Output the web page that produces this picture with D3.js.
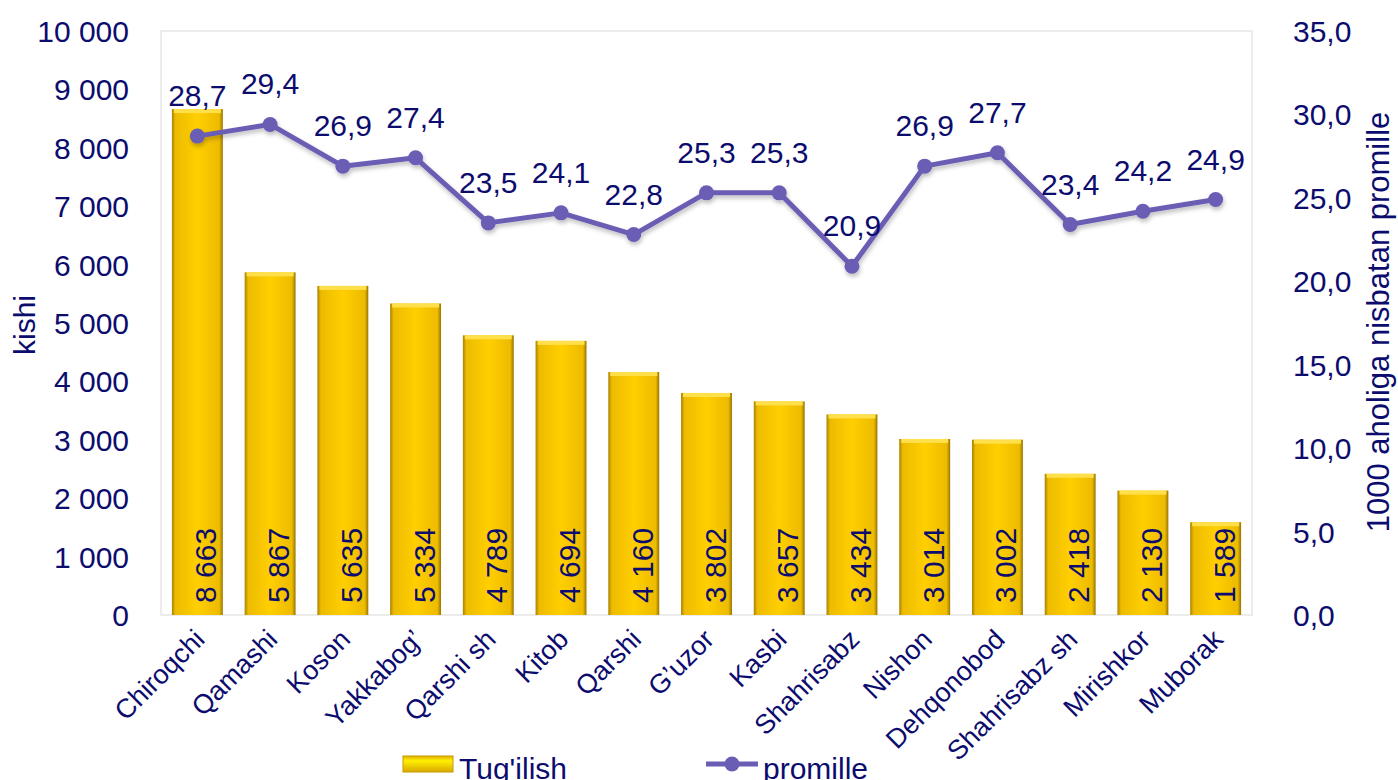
<!DOCTYPE html>
<html>
<head>
<meta charset="utf-8">
<script src="https://cdn.jsdelivr.net/npm/d3@7"></script>
<style>
  body { margin: 0; background: #fff; }
  svg text { font-family: "Liberation Sans", Arial, sans-serif; fill: #0C0C6E; }
</style>
</head>
<body>
<div id="chart"></div>
<script>
var categories = ["Chiroqchi", "Qamashi", "Koson", "Yakkabog’", "Qarshi sh", "Kitob", "Qarshi",
  "G’uzor", "Kasbi", "Shahrisabz", "Nishon", "Dehqonobod", "Shahrisabz sh", "Mirishkor", "Muborak"];
var births = [8663, 5867, 5635, 5334, 4789, 4694, 4160, 3802, 3657, 3434, 3014, 3002, 2418, 2130, 1589];
var promille = [28.7, 29.4, 26.9, 27.4, 23.5, 24.1, 22.8, 25.3, 25.3, 20.9, 26.9, 27.7, 23.4, 24.2, 24.9];
var leftTicks = [0, 1000, 2000, 3000, 4000, 5000, 6000, 7000, 8000, 9000, 10000];
var rightTicks = [0, 5, 10, 15, 20, 25, 30, 35];

var W = 1398, H = 780;
var pLeft = 161, pRight = 1252, pTop = 31, pBottom = 615;
var navy = "#0C0C6E", purple = "#6A5DB4";

var svg = d3.select("#chart").append("svg").attr("width", W).attr("height", H);

var defs = svg.append("defs");
var g1 = defs.append("linearGradient").attr("id", "barGrad").attr("x1", 0).attr("x2", 1).attr("y1", 0).attr("y2", 0);
g1.append("stop").attr("offset", "0%").attr("stop-color", "#A88200");
g1.append("stop").attr("offset", "7%").attr("stop-color", "#EDBB00");
g1.append("stop").attr("offset", "50%").attr("stop-color", "#FFCF00");
g1.append("stop").attr("offset", "93%").attr("stop-color", "#EDBB00");
g1.append("stop").attr("offset", "100%").attr("stop-color", "#987400");
var g2 = defs.append("linearGradient").attr("id", "legGrad").attr("x1", 0).attr("x2", 0).attr("y1", 0).attr("y2", 1);
g2.append("stop").attr("offset", "0%").attr("stop-color", "#E0B000");
g2.append("stop").attr("offset", "30%").attr("stop-color", "#FFF000");
g2.append("stop").attr("offset", "100%").attr("stop-color", "#D9A800");
var sh = defs.append("filter").attr("id", "shadow").attr("x", "-10%").attr("y", "-10%").attr("width", "120%").attr("height", "130%");
sh.append("feDropShadow").attr("dx", 1).attr("dy", 3).attr("stdDeviation", 2)
  .attr("flood-color", "#000").attr("flood-opacity", 0.25);

var x = d3.scaleBand().domain(categories).range([pLeft, pRight]).paddingInner(0.3).paddingOuter(0.15);
var y = d3.scaleLinear().domain([0, 10000]).range([pBottom, pTop]);
var y2 = d3.scaleLinear().domain([0, 35]).range([pBottom, pTop]);

// plot frame
svg.append("rect").attr("x", pLeft).attr("y", pTop).attr("width", pRight - pLeft).attr("height", pBottom - pTop)
  .attr("fill", "none").attr("stroke", "#E6E6E6").attr("stroke-width", 1.5);

var fmtInt = function(v) { return d3.format(",")(v).replace(/,/g, " "); };
var fmtDec = function(v) { return d3.format(".1f")(v).replace(".", ","); };

// left axis
var la = svg.append("g").attr("transform", "translate(" + (pLeft - 29) + ",0)")
  .call(d3.axisLeft(y).tickValues(leftTicks).tickFormat(fmtInt).tickSize(0));
la.select(".domain").remove();
la.selectAll("text").attr("font-size", 30).attr("fill", navy).attr("dy", "0.35em");

// right axis
var ra = svg.append("g").attr("transform", "translate(" + (pRight + 38) + ",0)")
  .call(d3.axisRight(y2).tickValues(rightTicks).tickFormat(fmtDec).tickSize(0));
ra.select(".domain").remove();
ra.selectAll("text").attr("font-size", 30).attr("fill", navy).attr("dy", "0.35em");

// axis titles
svg.append("text").attr("transform", "translate(35,325) rotate(-90)")
  .attr("text-anchor", "middle").attr("font-size", 30).text("kishi");
svg.append("text").attr("transform", "translate(1389,322) rotate(-90)")
  .attr("text-anchor", "middle").attr("font-size", 31).text("1000 aholiga nisbatan promille");

// bars
svg.append("g").selectAll("rect").data(births).enter().append("rect")
  .attr("x", function(d, i) { return x(categories[i]); })
  .attr("y", function(d) { return y(d); })
  .attr("width", x.bandwidth())
  .attr("height", function(d) { return pBottom - y(d); })
  .attr("fill", "url(#barGrad)");
// bar top bevel
svg.append("g").selectAll("rect").data(births).enter().append("rect")
  .attr("x", function(d, i) { return x(categories[i]) + 2; })
  .attr("y", function(d) { return y(d); })
  .attr("width", x.bandwidth() - 4)
  .attr("height", 4)
  .attr("fill", "#FFE04A");

// bar value labels
svg.append("g").selectAll("text").data(births).enter().append("text")
  .attr("transform", function(d, i) {
    return "translate(" + (x(categories[i]) + x.bandwidth() / 2 + 19) + "," + (pBottom - 12) + ") rotate(-90)";
  })
  .attr("font-size", 30)
  .text(function(d) { return fmtInt(d); });

// x labels
svg.append("g").selectAll("text").data(categories).enter().append("text")
  .attr("transform", function(d) {
    return "translate(" + (x(d) + x.bandwidth() / 2 + 9) + "," + (pBottom + 26) + ") rotate(-45)";
  })
  .attr("text-anchor", "end")
  .attr("font-size", 27)
  .text(function(d) { return d; });

// line
var cx = function(i) { return x(categories[i]) + x.bandwidth() / 2; };
var line = d3.line().x(function(d, i) { return cx(i); }).y(function(d) { return y2(d); });
var lg = svg.append("g").attr("filter", "url(#shadow)");
lg.append("path").datum(promille).attr("d", line)
  .attr("fill", "none").attr("stroke", purple).attr("stroke-width", 5).attr("stroke-linejoin", "round");
lg.selectAll("circle").data(promille).enter().append("circle")
  .attr("cx", function(d, i) { return cx(i); })
  .attr("cy", function(d) { return y2(d); })
  .attr("r", 7.5).attr("fill", purple);
svg.append("g").selectAll("text").data(promille).enter().append("text")
  .attr("x", function(d, i) { return cx(i); })
  .attr("y", function(d) { return y2(d) - 30; })
  .attr("text-anchor", "middle").attr("font-size", 30)
  .text(function(d) { return fmtDec(d); });

// legend
var leg = svg.append("g");
leg.append("rect").attr("x", 403).attr("y", 756).attr("width", 50).attr("height", 16)
  .attr("fill", "url(#legGrad)").attr("stroke", "#C89A00").attr("stroke-width", 1);
leg.append("text").attr("x", 459).attr("y", 779).attr("font-size", 30).text("Tug'ilish");
leg.append("line").attr("x1", 706).attr("x2", 758).attr("y1", 764).attr("y2", 764)
  .attr("stroke", purple).attr("stroke-width", 5);
leg.append("circle").attr("cx", 732).attr("cy", 764).attr("r", 7.5).attr("fill", purple);
leg.append("text").attr("x", 763).attr("y", 779).attr("font-size", 30).text("promille");
</script>
</body>
</html>
